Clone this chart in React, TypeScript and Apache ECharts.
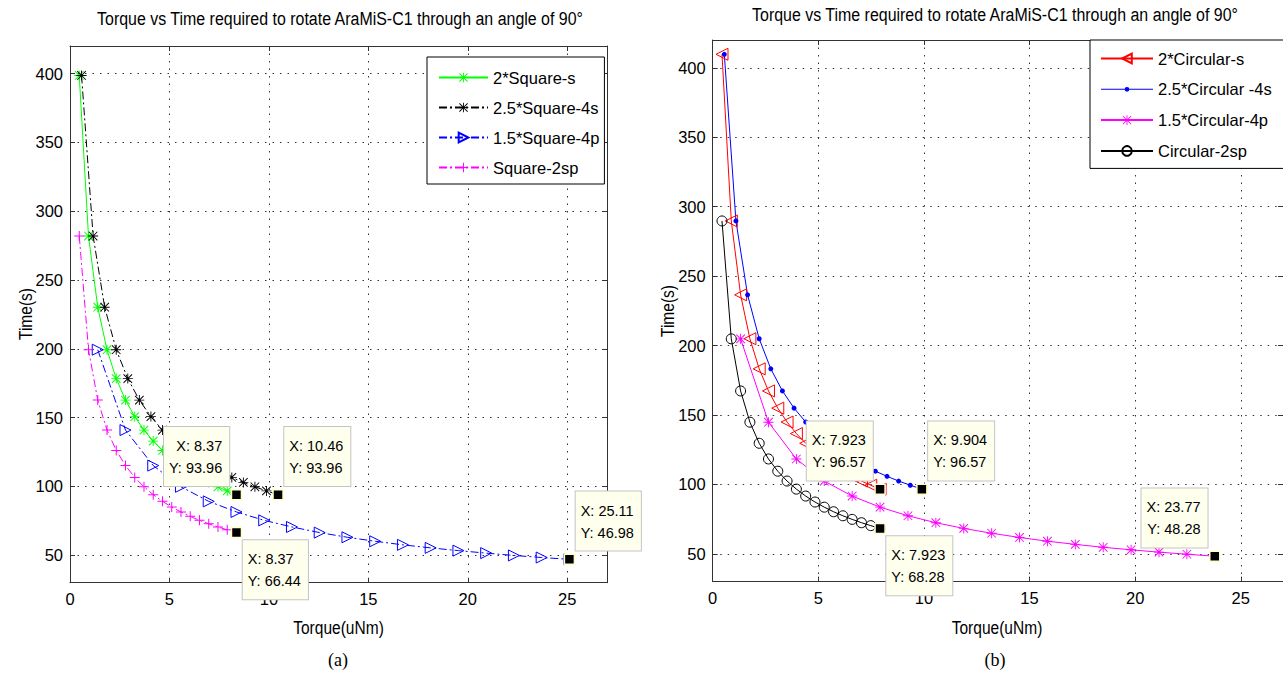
import React, { useEffect, useRef } from "react";
import * as echarts from "echarts";

const SANS = "'Liberation Sans', Arial, sans-serif";
const SERIF = "'Liberation Serif', 'Times New Roman', serif";

const titleText = "Torque vs Time required to rotate AraMiS-C1 through an angle of 90°";
const xTitle = "Torque(uNm)";
const yTitle = "Time(s)";
const captions = ["(a)", "(b)"];

const xRange = [0, 27];
const yRange = [30, 420];

// ---------- Panel (a) ----------
const namesA = ["2*Square-s", "2.5*Square-4s", "1.5*Square-4p", "Square-2sp"];

const torque2SquareS = [0.465, 0.93, 1.395, 1.86, 2.325, 2.79, 3.255, 3.72, 4.185, 4.65, 5.115, 5.58, 6.045, 6.51, 6.975, 7.44, 7.905, 8.37];
const time2SquareS = [398.6, 281.9, 230.2, 199.3, 178.3, 162.7, 150.7, 140.9, 132.9, 126.1, 120.2, 115.1, 110.6, 106.5, 102.9, 99.7, 96.7, 93.96];

const torque25Square4s = [0.581, 1.162, 1.743, 2.324, 2.906, 3.487, 4.068, 4.649, 5.23, 5.811, 6.392, 6.973, 7.554, 8.136, 8.717, 9.298, 9.879, 10.46];
const time25Square4s = [398.6, 281.9, 230.2, 199.3, 178.3, 162.7, 150.7, 140.9, 132.9, 126.1, 120.2, 115.1, 110.6, 106.5, 102.9, 99.7, 96.7, 93.96];

const torque15Square4p = [1.395, 2.79, 4.185, 5.58, 6.975, 8.37, 9.765, 11.16, 12.555, 13.95, 15.345, 16.74, 18.135, 19.53, 20.925, 22.32, 23.715, 25.11];
const time15Square4p = [199.3, 140.9, 115.1, 99.7, 89.1, 81.4, 75.3, 70.5, 66.4, 63.0, 60.1, 57.5, 55.3, 53.3, 51.5, 49.8, 48.3, 46.98];

const torqueSquare2sp = [0.465, 0.93, 1.395, 1.86, 2.325, 2.79, 3.255, 3.72, 4.185, 4.65, 5.115, 5.58, 6.045, 6.51, 6.975, 7.44, 7.905, 8.37];
const timeSquare2sp = [281.9, 199.3, 162.7, 140.9, 126.1, 115.1, 106.5, 99.7, 93.96, 89.1, 85.0, 81.4, 78.2, 75.3, 72.8, 70.5, 68.4, 66.44];

// ---------- Panel (b) ----------
const namesB = ["2*Circular-s", "2.5*Circular -4s", "1.5*Circular-4p", "Circular-2sp"];

const torque2CircS = [0.44, 0.88, 1.321, 1.761, 2.201, 2.641, 3.081, 3.521, 3.962, 4.402, 4.842, 5.282, 5.722, 6.162, 6.603, 7.043, 7.483, 7.923];
const time2CircS = [409.7, 289.7, 236.5, 204.9, 183.2, 167.3, 154.9, 144.9, 136.6, 129.6, 123.5, 118.3, 113.6, 109.5, 105.8, 102.4, 99.4, 96.57];

const torque25Circ4s = [0.55, 1.1, 1.651, 2.201, 2.751, 3.301, 3.852, 4.402, 4.952, 5.502, 6.052, 6.603, 7.153, 7.703, 8.253, 8.804, 9.354, 9.904];
const time25Circ4s = [409.7, 289.7, 236.5, 204.9, 183.2, 167.3, 154.9, 144.9, 136.6, 129.6, 123.5, 118.3, 113.6, 109.5, 105.8, 102.4, 99.4, 96.57];

const torque15Circ4p = [1.321, 2.641, 3.962, 5.282, 6.603, 7.923, 9.244, 10.564, 11.885, 13.206, 14.526, 15.847, 17.167, 18.488, 19.808, 21.129, 22.449, 23.77];
const time15Circ4p = [204.8, 144.8, 118.3, 102.4, 91.6, 83.6, 77.4, 72.4, 68.3, 64.8, 61.8, 59.1, 56.8, 54.7, 52.9, 51.2, 49.7, 48.28];

const torqueCirc2sp = [0.44, 0.88, 1.321, 1.761, 2.201, 2.641, 3.081, 3.521, 3.962, 4.402, 4.842, 5.282, 5.722, 6.162, 6.603, 7.043, 7.483, 7.923];
const timeCirc2sp = [289.7, 204.8, 167.3, 144.8, 129.6, 118.3, 109.5, 102.4, 96.6, 91.6, 87.3, 83.6, 80.3, 77.4, 74.8, 72.4, 70.3, 68.28];

// data tips: [x, y] of the marked points
const tipsA = [
  { series: 0, x: 8.37, y: 93.96, place: "ul" },
  { series: 1, x: 10.46, y: 93.96, place: "ur" },
  { series: 2, x: 25.11, y: 46.98, place: "ur" },
  { series: 3, x: 8.37, y: 66.44, place: "dr" },
];
const tipsB = [
  { series: 0, x: 7.923, y: 96.57, place: "ul" },
  { series: 1, x: 9.904, y: 96.57, place: "ur" },
  { series: 2, x: 23.77, y: 48.28, place: "ul" },
  { series: 3, x: 7.923, y: 68.28, place: "dr" },
];

const ASTERISK =
  "path://M4.55,0H5.45V10H4.55Z M0,4.55H10V5.45H0Z M1.05,0.4L9.6,8.95L8.95,9.6L0.4,1.05Z M8.95,0.4L9.6,1.05L1.05,9.6L0.4,8.95Z";
const PLUS = "path://M4.5,0H5.5V10H4.5Z M0,4.5H10V5.5H0Z";
const DOT_LEGEND =
  "path://M0,0L0.01,0L0,0.01Z M52,12L51.99,12L52,11.99Z M0,5.5H52V6.5H0Z M23.6,6A2.4,2.4 0 1 1 28.4,6A2.4,2.4 0 1 1 23.6,6Z";
const DASHDOT = [8, 3, 2, 3];

const placeCfg: Record<string, any> = {
  ul: { position: [-1.5, -3], align: "right", verticalAlign: "bottom" },
  ur: { position: [12, -3], align: "left", verticalAlign: "bottom" },
  dr: { position: [12, 13.5], align: "left", verticalAlign: "top" },
};

function tipMark(tips: any[], idx: number) {
  const t = tips.filter((d) => d.series === idx);
  if (!t.length) return undefined;
  return {
    z: 20,
    symbol: "rect",
    symbolSize: 10,
    silent: true,
    itemStyle: { color: "#000", borderColor: "#ffffc8", borderWidth: 1.5 },
    data: t.map((d) => ({
      coord: [d.x, d.y],
      label: {
        show: true,
        formatter: `X: ${d.x}\nY: ${d.y}`,
        ...placeCfg[d.place],
        backgroundColor: "#ffffee",
        borderColor: "#c4c4c4",
        borderWidth: 1,
        padding: [8, 7, 7, 5],
        lineHeight: 22,
        fontSize: 14.5,
        fontFamily: SANS,
        color: "#000",
      },
    })),
  };
}

function mkSeries(
  name: string,
  xs: number[],
  ys: number[],
  grid: number,
  color: string,
  dash: any,
  symbol: string,
  size: number,
  rotate: number,
  hollow: boolean,
  mark: any
) {
  return {
    type: "line",
    name,
    xAxisIndex: grid * 2,
    yAxisIndex: grid * 2,
    data: xs.map((x, i) => [x, ys[i]]),
    symbol,
    symbolSize: size,
    symbolRotate: rotate,
    showAllSymbol: true,
    itemStyle: hollow
      ? { color: "rgba(0,0,0,0)", borderColor: color, borderWidth: 1 }
      : { color, borderColor: color, borderWidth: 0 },
    lineStyle: { color, width: 1, type: dash },
    emphasis: { disabled: true },
    markPoint: mark,
  };
}

const axisLine = { show: true, onZero: false, lineStyle: { color: "#333", width: 1 } };
const tickStyle = { show: true, inside: true, length: 5, lineStyle: { color: "#333", width: 1 } };
const labelFont = { color: "#000", fontSize: 16.5, fontFamily: SANS };

function xAxes(grid: number) {
  const base = { type: "value", gridIndex: grid, min: xRange[0], max: xRange[1], splitNumber: 5 };
  return [
    {
      ...base,
      position: "bottom",
      axisLine,
      axisTick: tickStyle,
      axisLabel: { ...labelFont, margin: 8, showMinLabel: true, showMaxLabel: false },
      splitLine: { show: true, lineStyle: { color: "#333", width: 1, type: [1.5, 6] } },
    },
    {
      ...base,
      position: "top",
      axisLine,
      axisTick: tickStyle,
      axisLabel: { show: false },
      splitLine: { show: false },
    },
  ];
}

function yAxes(grid: number) {
  const base = { type: "value", gridIndex: grid, min: yRange[0], max: yRange[1], splitNumber: 8 };
  return [
    {
      ...base,
      position: "left",
      axisLine,
      axisTick: tickStyle,
      axisLabel: { ...labelFont, margin: 7, showMinLabel: false, showMaxLabel: false },
      splitLine: { show: true, lineStyle: { color: "#333", width: 1, type: [1.5, 6] } },
    },
    {
      ...base,
      position: "right",
      axisLine,
      axisTick: tickStyle,
      axisLabel: { show: false },
      splitLine: { show: false },
    },
  ];
}

function narrowText(text: string, x: number, y: number, size: number, rotation = 0) {
  return {
    type: "text",
    x,
    y,
    rotation,
    scaleX: 0.84,
    style: { text, fontSize: size, fontFamily: SANS, fill: "#000", align: "center", verticalAlign: "middle" },
  };
}

export default function App() {
  const ref = useRef<HTMLDivElement>(null);
  useEffect(() => {
    if (!ref.current) return;
    const chart = echarts.init(ref.current, null, { renderer: "svg" });
    const legendBase = {
      orient: "vertical",
      borderColor: "#000",
      borderWidth: 1,
      backgroundColor: "#fff",
      itemHeight: 12,
      selectedMode: false,
      textStyle: { color: "#000", fontSize: 16.5, fontFamily: SANS },
    };
    chart.setOption({
      animation: false,
      backgroundColor: "#fff",
      grid: [
        { left: 70, top: 46, width: 537, height: 536.7 },
        { left: 712.7, top: 40, width: 572.1, height: 541.6 },
      ],
      xAxis: [...xAxes(0), ...xAxes(1)],
      yAxis: [...yAxes(0), ...yAxes(1)],
      legend: [
        {
          ...legendBase,
          data: namesA,
          left: 427,
          top: 57,
          padding: [12, 5, 8, 11],
          itemGap: 13,
          itemWidth: 49,
        },
        {
          ...legendBase,
          data: [namesB[0], { name: namesB[1], icon: DOT_LEGEND }, namesB[2], namesB[3]],
          left: 1090,
          top: 40,
          padding: [10, 40, 9, 10],
          itemGap: 13.8,
          itemWidth: 52,
        },
      ],
      series: [
        mkSeries(namesA[0], torque2SquareS, time2SquareS, 0, "#00ff00", "solid", ASTERISK, 10, 0, false, tipMark(tipsA, 0)),
        mkSeries(namesA[1], torque25Square4s, time25Square4s, 0, "#000000", DASHDOT, ASTERISK, 10, 0, false, tipMark(tipsA, 1)),
        mkSeries(namesA[2], torque15Square4p, time15Square4p, 0, "#0000ff", DASHDOT, "triangle", 11, -90, true, tipMark(tipsA, 2)),
        mkSeries(namesA[3], torqueSquare2sp, timeSquare2sp, 0, "#ff00ff", DASHDOT, PLUS, 10, 0, false, tipMark(tipsA, 3)),
        mkSeries(namesB[0], torque2CircS, time2CircS, 1, "#ff0000", "solid", "triangle", 12, 90, true, tipMark(tipsB, 0)),
        mkSeries(namesB[1], torque25Circ4s, time25Circ4s, 1, "#0000ff", "solid", "circle", 5, 0, false, tipMark(tipsB, 1)),
        mkSeries(namesB[2], torque15Circ4p, time15Circ4p, 1, "#ff00ff", "solid", ASTERISK, 10, 0, false, tipMark(tipsB, 2)),
        mkSeries(namesB[3], torqueCirc2sp, timeCirc2sp, 1, "#000000", "solid", "circle", 10, 0, true, tipMark(tipsB, 3)),
      ],
      graphic: [
        narrowText(titleText, 340, 19, 19),
        narrowText(titleText, 995, 15, 19),
        narrowText(xTitle, 338.5, 628, 18.5),
        narrowText(xTitle, 997, 628, 18.5),
        narrowText(yTitle, 26, 314, 18.5, Math.PI / 2),
        narrowText(yTitle, 668, 311, 18.5, Math.PI / 2),
        {
          type: "text",
          x: 338,
          y: 660,
          style: { text: captions[0], fontSize: 18, fontFamily: SERIF, fill: "#000", align: "center", verticalAlign: "middle" },
        },
        {
          type: "text",
          x: 995,
          y: 660,
          style: { text: captions[1], fontSize: 18, fontFamily: SERIF, fill: "#000", align: "center", verticalAlign: "middle" },
        },
      ],
    });
    return () => chart.dispose();
  }, []);
  return <div ref={ref} style={{ position: "fixed", left: 0, top: 0, width: 1283, height: 673 }} />;
}
